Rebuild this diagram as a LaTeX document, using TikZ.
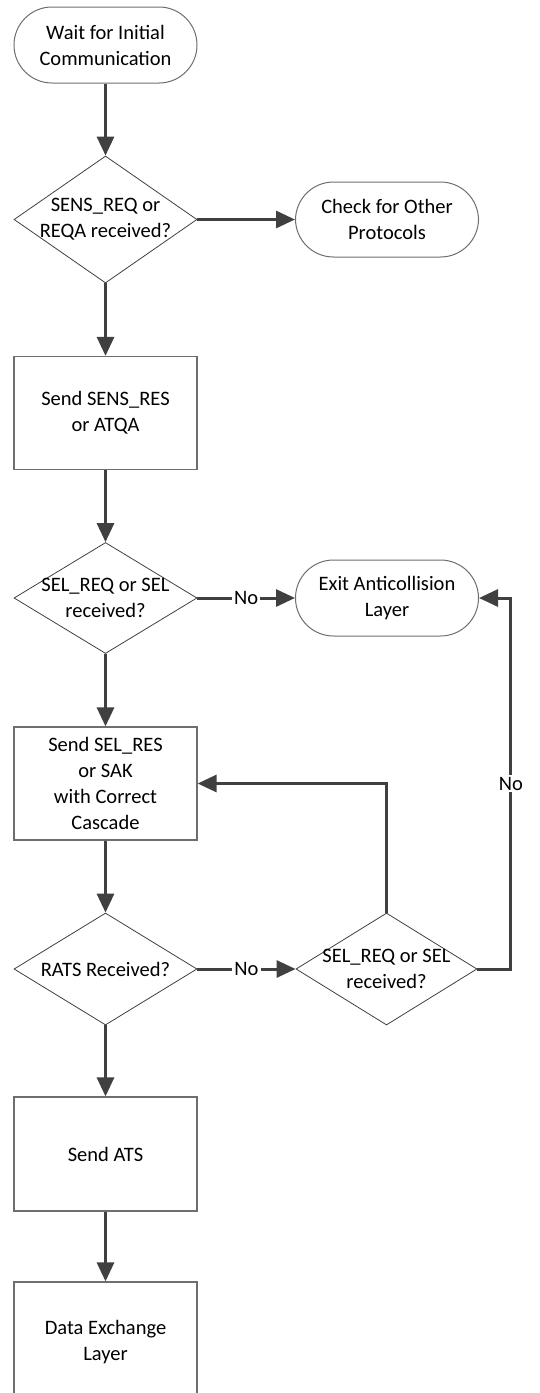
\documentclass[tikz,border=0pt]{standalone}
\usepackage{fontspec}
\setmainfont{Carlito}
\usetikzlibrary{shapes.geometric,arrows.meta}

\definecolor{linegray}{HTML}{404040}
\definecolor{edgegray}{HTML}{6E6E6E}

\tikzset{
    every node/.style={font=\fontsize{10.25}{13}\selectfont, text=black},
    terminal/.style={draw=edgegray, line width=0.5pt, rectangle, rounded corners=19pt,
        minimum width=91.5pt, minimum height=38pt, align=center, inner sep=0pt},
    process/.style={draw=edgegray, line width=0.6pt, rectangle,
        minimum width=91.5pt, minimum height=56.5pt, align=center, inner sep=0pt},
    decision/.style={draw=linegray, line width=0.4pt, diamond, inner sep=0pt,
        minimum width=91.5pt, minimum height=56pt},
    flow/.style={draw=linegray, line width=1.5pt,
        -{Triangle[length=9.5pt,width=8.5pt]}},
    answer/.style={fill=white, inner sep=1pt}
}

\begin{document}
\begin{tikzpicture}[x=0.5pt, y=-0.5pt]
    % Page size of the picture
    \useasboundingbox (0,0) rectangle (540,1393);

    % Main column
    \node[terminal] (start) at (105.5,45) {Wait for Initial\\Communication};
    \node[decision, minimum height=63.5pt,
        label={[align=center]center:SENS\_REQ or\\REQA received?}] (sensreq) at (105.5,219.5) {};
    \node[process] (sensres) at (105.5,413) {Send SENS\_RES\\or ATQA};
    \node[decision, minimum height=55.5pt,
        label={[align=center]center:SEL\_REQ or SEL\\received?}] (selreq) at (105.5,598) {};
    \node[process] (selres) at (105.5,783.5) {Send SEL\_RES\\or SAK\\with Correct\\Cascade};
    \node[decision,
        label={[align=center]center:RATS Received?}] (rats) at (105.5,969) {};
    \node[process, minimum height=57pt] (ats) at (105.5,1154) {Send ATS};
    \node[process, minimum height=60pt] (data) at (105.5,1342) {Data Exchange\\Layer};

    % Right column
    \node[terminal, minimum height=37.5pt] (other) at (387,219.5) {Check for Other\\Protocols};
    \node[terminal] (exit) at (387,598) {Exit Anticollision\\Layer};
    \node[decision, minimum width=90.5pt,
        label={[align=center]center:SEL\_REQ or SEL\\received?}] (selreqb) at (386.5,969) {};

    % Straight flow
    \draw[flow] (start) -- (sensreq);
    \draw[flow] (sensreq) -- (other);
    \draw[flow] (sensreq) -- (sensres);
    \draw[flow] (sensres) -- (selreq);
    \draw[flow] (selreq) -- node[answer] {No} (exit);
    \draw[flow] (selreq) -- (selres);
    \draw[flow] (selres) -- (rats);
    \draw[flow] (rats) -- node[answer] {No} (selreqb);
    \draw[flow] (rats) -- (ats);
    \draw[flow] (ats) -- (data);

    % Loops back
    \draw[flow] (selreqb.north) |- (selres.east);
    \draw[flow] (selreqb.east) -- ++(33.5,0) |- node[answer, pos=0.25] {No} (exit.east);
\end{tikzpicture}
\end{document}
